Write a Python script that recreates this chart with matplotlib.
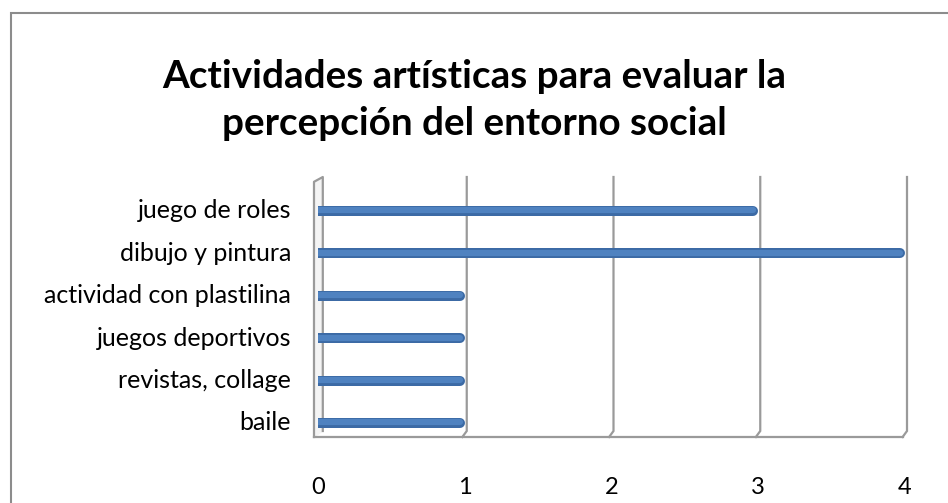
import matplotlib
matplotlib.use("Agg")
import matplotlib.pyplot as plt
from matplotlib.patches import Rectangle

categories = ["baile", "revistas, collage", "juegos deportivos",
              "actividad con plastilina", "dibujo y pintura", "juego de roles"]
values = [1, 1, 1, 1, 4, 3]
xticks = [0, 1, 2, 3, 4]
title = "Actividades artísticas para evaluar la\npercepción del entorno social"

W, H = 948, 503
fig = plt.figure(figsize=(W / 100, H / 100), dpi=100)

# outer chart border
fig.add_artist(Rectangle((11 / W, -0.01), (W + 20) / W, (H - 13) / H + 0.01,
                         transform=fig.transFigure, fill=False,
                         edgecolor="#8c8c8c", linewidth=1.5))

fig.text(0.5, (H - 100) / H, title, ha="center", va="center",
         fontsize=27.8, fontweight="bold", family="Lato",
         linespacing=1.42, color="black")

x0, x4 = 318, 905
y_top, y_floor = 177, 437
ax = fig.add_axes([x0 / W, (H - y_floor) / H, (x4 - x0) / W, (y_floor - y_top) / H])
ypos = list(range(len(categories)))
unit_y = 42.4
ax.set_xlim(0, 4)
ax.set_ylim(-(437 - 423) / unit_y, 5 + (211 - 177) / unit_y)
ax.axis("off")

px_x = (x4 - x0) / 4.0
dx = 4 / px_x
dy = 6 / unit_y
ylo, yhi = ax.get_ylim()
grid_col = "#9a9a9a"

# back-wall gridlines with depth diagonal to floor
for v in xticks[1:]:
    ax.plot([v + dx * 0.5, v + dx * 0.5, v - dx * 0.6], [yhi, ylo + dy, ylo],
            color=grid_col, lw=1.6, solid_joinstyle="miter", clip_on=False)
# floor front line
ax.plot([-dx, 4 - dx * 0.6], [ylo, ylo], color=grid_col, lw=1.6, clip_on=False)
# left wall
ax.plot([-dx, -dx, dx * 1.2, dx * 1.2], [ylo, yhi - dy * 0.8, yhi, ylo + dy],
        color=grid_col, lw=1.6, clip_on=False)
ax.fill([-dx, -dx, dx * 1.2, dx * 1.2], [ylo, yhi - dy * 0.8, yhi, ylo + dy],
        color="#f4f4f4", zorder=0, clip_on=False)

# cylinder bars
lw_px = 10
for y, v in zip(ypos, values):
    end = v - (lw_px / 2) / px_x
    ax.hlines(y, 0.0, end, color="#3c6aa5", lw=lw_px * 0.72,
              capstyle="round", zorder=3)
    ax.hlines(y + 0.012, 0.0, end, color="#4f82c0", lw=lw_px * 0.72 * 0.62,
              capstyle="round", zorder=4)

for y, c in zip(ypos, categories):
    ax.text(-27 / px_x, y, c, ha="right", va="center", fontsize=18,
            family="Lato", color="black")
for v in xticks:
    ax.text(v, ylo - 51 / unit_y, str(v), ha="center", va="center",
            fontsize=17, family="Lato", color="black")

fig.savefig("out.png", dpi=100)
